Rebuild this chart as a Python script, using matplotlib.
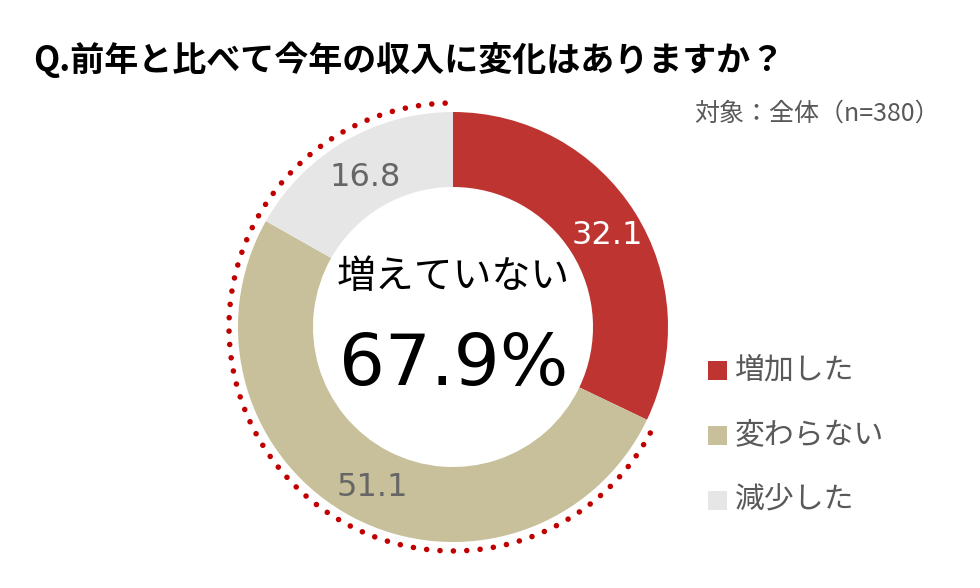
import matplotlib
matplotlib.use('Agg')
import matplotlib.pyplot as plt
import numpy as np

plt.rcParams['font.family'] = ['Noto Sans CJK JP', 'DejaVu Sans']
NUM_FONT = ['DejaVu Sans', 'Noto Sans CJK JP']

# data
labels = ['増加した', '変わらない', '減少した']
values = [32.1, 51.1, 16.8]
colors = ['#BE3431', '#C7C09B', '#E6E6E6']
label_colors = ['white', '#666666', '#666666']
title = 'Q.前年と比べて今年の収入に変化はありますか？'
subtitle = '対象：全体（n=380）'
center_label = '増えていない'
center_value = '{:.1f}%'.format(values[1] + values[2])

W, H = 980, 588
fig = plt.figure(figsize=(W / 100, H / 100), dpi=100)
ax = fig.add_axes([0, 0, 1, 1])

cx, cy = 453, H - 327
R, ring = 215, 75

wedges, _ = ax.pie(values, colors=colors, startangle=90, counterclock=False,
                   radius=R, center=(cx, cy), frame=True,
                   wedgeprops=dict(width=ring, linewidth=0))
ax.set_xlim(0, W)
ax.set_ylim(0, H)
ax.set_aspect('equal')
ax.axis('off')

# value labels inside the ring
lab_pos = [(607, 235), (372, 487), (365, 178)]
for v, (x, y), c in zip(values, lab_pos, label_colors):
    ax.text(x, H - y, '{:.1f}'.format(v), color=c, fontsize=23, family=NUM_FONT,
            ha='center', va='center')

# dotted arc around the "not increased" part
end_ang = 90 - 360 * values[0] / 100 + 360
theta = np.radians(np.linspace(92, end_ang, 400))
ax.plot(cx + 224 * np.cos(theta), cy + 224 * np.sin(theta), color='#C00000',
        linewidth=4.0, linestyle=(0, (0.01, 2.4)), dash_capstyle='round')

# center text
ax.text(cx, H - 277, center_label, fontsize=28, ha='center', va='center', color='black')
ax.text(cx + 1, H - 365, center_value, fontsize=52, family=NUM_FONT,
        ha='center', va='center', color='black')

# title / subtitle
ax.text(33, H - 60, title, fontsize=24.5, fontweight='bold', ha='left', va='center')
ax.text(940, H - 114, subtitle, fontsize=18, color='#595959', ha='right', va='center')

# legend
for i, (lab, c) in enumerate(zip(labels, colors)):
    y = H - (370 + 65 * i)
    ax.add_patch(plt.Rectangle((708, y - 9.5), 19, 19, color=c, linewidth=0))
    ax.text(735, y, lab, fontsize=21.5, color='#595959', ha='left', va='center')

fig.savefig('out.png', dpi=100, facecolor='white')
